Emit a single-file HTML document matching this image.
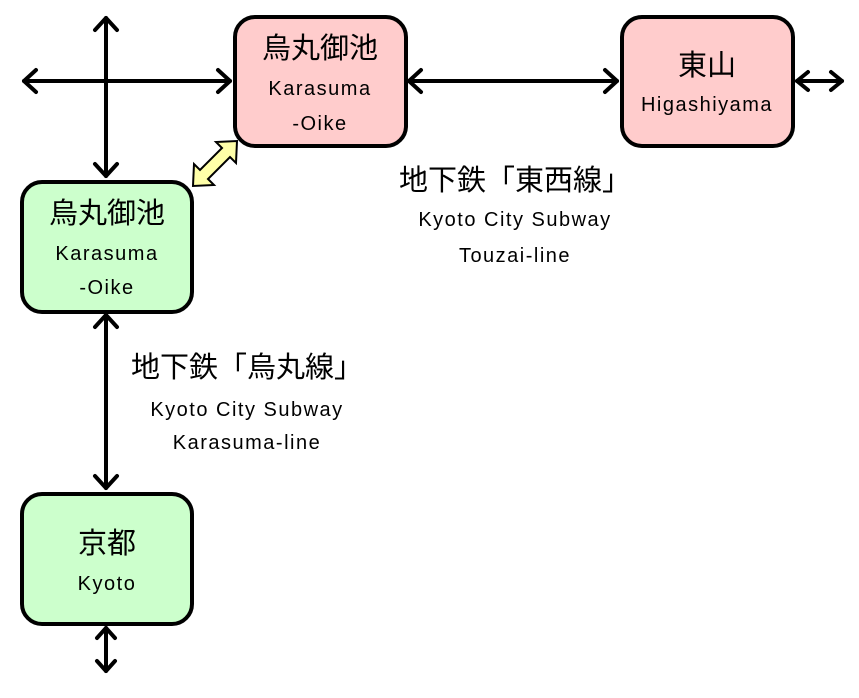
<!DOCTYPE html>
<html><head><meta charset="utf-8"><style>
html,body{margin:0;padding:0;background:#fff;}
svg text{font-family:"Liberation Sans","Noto Sans CJK JP",sans-serif;fill:#000;}
.k{font-size:29px;}
.l{font-size:20px;letter-spacing:1.5px;}
</style></head><body>
<svg width="859" height="693" viewBox="0 0 859 693" xmlns="http://www.w3.org/2000/svg">
<g stroke="#000" stroke-width="4" fill="none" stroke-linecap="round" stroke-linejoin="round">
<!-- cross -->
<line x1="106" y1="18" x2="106" y2="176"/>
<polyline points="95,30 106,18 117,30"/><polyline points="95,164 106,176 117,164"/>
<line x1="24" y1="81" x2="230" y2="81"/>
<polyline points="36,70 24,81 36,92"/><polyline points="218,70 230,81 218,92"/>
<!-- between pink -->
<line x1="409" y1="81" x2="617" y2="81"/>
<polyline points="421,70 409,81 421,92"/><polyline points="605,70 617,81 605,92"/>
<!-- right -->
<line x1="797" y1="81" x2="842" y2="81"/>
<polyline points="808,72 797,81 808,90"/><polyline points="831,72 842,81 831,90"/>
<!-- vertical green -->
<line x1="106" y1="315" x2="106" y2="488"/>
<polyline points="95,327 106,315 117,327"/><polyline points="95,476 106,488 117,476"/>
<!-- bottom -->
<line x1="106" y1="628" x2="106" y2="671"/>
<polyline points="97,638 106,628 115,638"/><polyline points="97,661 106,671 115,661"/>
</g>
<!-- yellow diagonal arrow -->
<polygon points="193,186 194,164 200,170 222,148 216,142 237,141 236,163 230,157 208,179 214,185" fill="#ffffa8" stroke="#000" stroke-width="2" stroke-linejoin="miter"/>
<!-- boxes -->
<rect x="235" y="17" width="171" height="129" rx="20" fill="#ffcccc" stroke="#000" stroke-width="4"/>
<rect x="622" y="17" width="171" height="129" rx="20" fill="#ffcccc" stroke="#000" stroke-width="4"/>
<rect x="22" y="182" width="170" height="130" rx="20" fill="#ccffcc" stroke="#000" stroke-width="4"/>
<rect x="22" y="494" width="170" height="130" rx="20" fill="#ccffcc" stroke="#000" stroke-width="4"/>
<g text-anchor="middle">
<text class="k" x="320" y="58">烏丸御池</text>
<text class="l" x="320" y="95">Karasuma</text>
<text class="l" x="320" y="130">-Oike</text>
<text class="k" x="707" y="75">東山</text>
<text class="l" x="707" y="111">Higashiyama</text>
<text class="k" x="107" y="223">烏丸御池</text>
<text class="l" x="107" y="260">Karasuma</text>
<text class="l" x="107" y="294">-Oike</text>
<text class="k" x="107" y="553">京都</text>
<text class="l" x="107" y="590">Kyoto</text>
<text class="k" x="515" y="190">地下鉄「東西線」</text>
<text class="l" x="515" y="226">Kyoto City Subway</text>
<text class="l" x="515" y="262">Touzai-line</text>
<text class="k" x="247" y="377">地下鉄「烏丸線」</text>
<text class="l" x="247" y="416">Kyoto City Subway</text>
<text class="l" x="247" y="449">Karasuma-line</text>
</g>
</svg>
</body></html>
